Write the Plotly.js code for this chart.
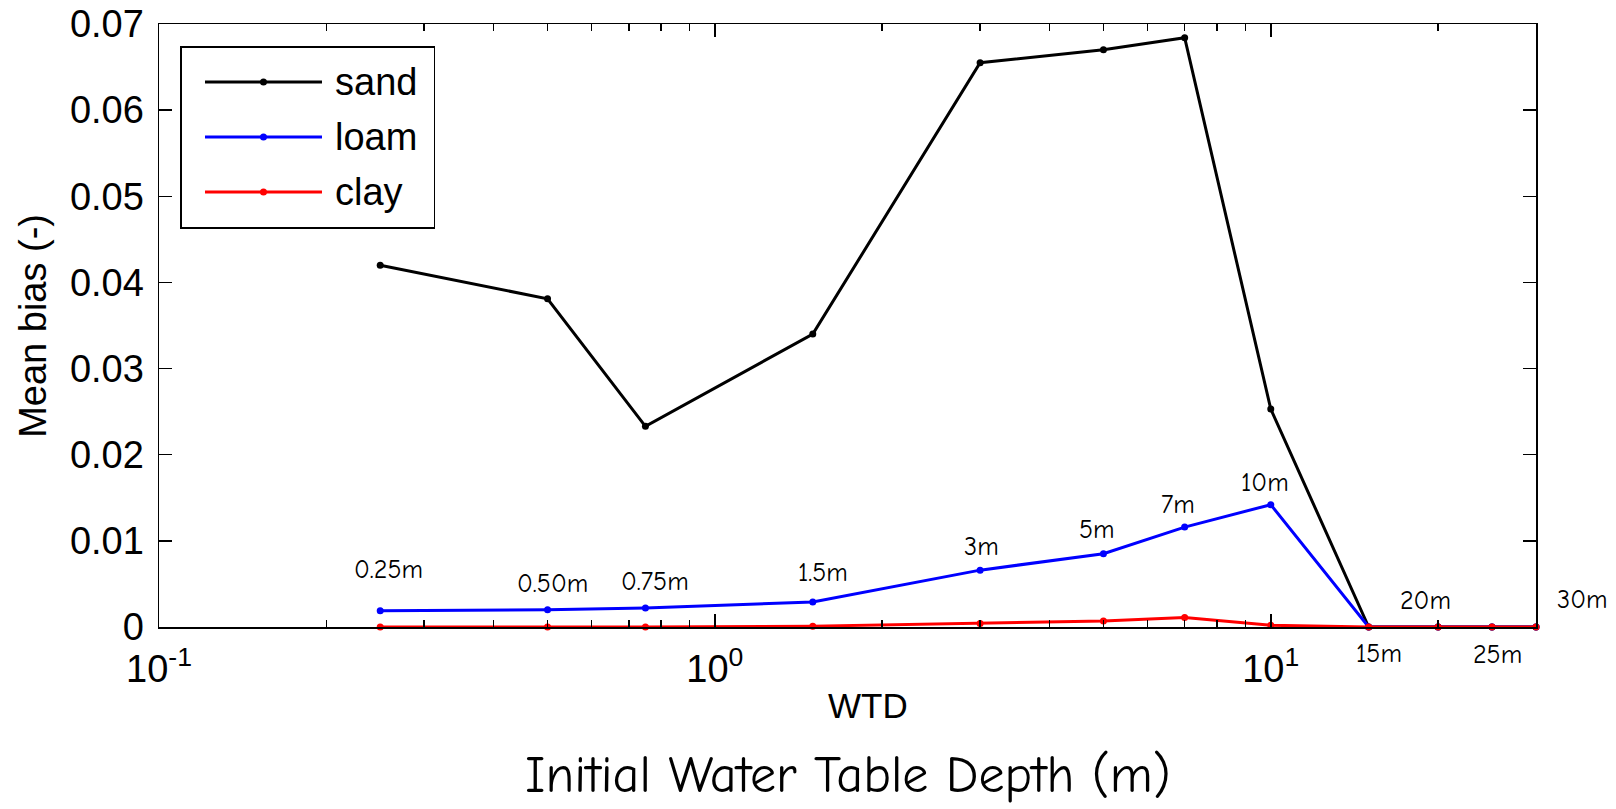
<!DOCTYPE html>
<html>
<head>
<meta charset="utf-8">
<script src="https://cdn.plot.ly/plotly-3.0.1.min.js"></script>
<style>html,body{margin:0;padding:0;background:#fff;}#chart{width:1616px;height:809px;}</style>
</head>
<body>
<div id="chart"></div>
<script>
// ---- data ----
const depths = [0.25, 0.5, 0.75, 1.5, 3, 5, 7, 10, 15, 20, 25, 30];
const depthLabels = ['0.25m', '0.50m', '0.75m', '1.5m', '3m', '5m', '7m', '10m', '15m', '20m', '25m', '30m'];
const sand = [0.0420, 0.0381, 0.0233, 0.0340, 0.0655, 0.0670, 0.0684, 0.0253, 0, 0, 0, 0];
const loam = [0.0019, 0.0020, 0.0022, 0.0029, 0.0066, 0.0085, 0.0116, 0.0142, 0, 0, 0, 0];
const clay = [0, 0, 0, 0.0001, 0.0004, 0.0007, 0.0011, 0.0002, 0, 0, 0, 0];
const seriesNames = ['sand', 'loam', 'clay'];
const seriesColors = ['#000000', '#0000ff', '#ff0000'];
const xTickVals = [0.1, 1, 10];
const xTickText = ['10<sup>-1</sup>', '10<sup>0</sup>', '10<sup>1</sup>'];
const xMinorVals = [0.2,0.3,0.4,0.5,0.6,0.7,0.8,0.9,2,3,4,5,6,7,8,9,20];
const yTickVals = [0, 0.01, 0.02, 0.03, 0.04, 0.05, 0.06, 0.07];

// ---- styling / layout helpers ----
const sansFont = 'Liberation Sans, Arial, sans-serif';
const comicFont = 'Comic Sans MS, Comic Neue, DejaVu Sans, sans-serif';
// pixel offsets of the depth labels relative to the loam point (dx, dy up)
const labelShift = [[8,41],[5,26],[10,26],[10,29],[1,23],[-6,24],[-7,22],[-6,22],[10,-27],[-13,26],[6,-28],[46,27]];

const allSeries = [sand, loam, clay];
const traces = allSeries.map((vals, i) => ({
  x: depths, y: vals, type: 'scatter', mode: 'lines+markers',
  name: seriesNames[i],
  line: {color: seriesColors[i], width: 3},
  marker: {color: seriesColors[i], size: 7},
  showlegend: false, xaxis: 'x', yaxis: 'y', cliponaxis: false
}));

// custom legend drawn in a small inset subplot
const legendRows = [34, 89, 144];
seriesNames.forEach((n, i) => {
  traces.push({
    x: [23, 140], y: [legendRows[i], legendRows[i]], type: 'scatter', mode: 'lines',
    line: {color: seriesColors[i], width: 3}, showlegend: false, hoverinfo: 'skip',
    xaxis: 'x2', yaxis: 'y2'
  });
  traces.push({
    x: [81.5], y: [legendRows[i]], type: 'scatter', mode: 'markers',
    marker: {color: seriesColors[i], size: 7}, showlegend: false, hoverinfo: 'skip',
    xaxis: 'x2', yaxis: 'y2'
  });
});

const annotations = depthLabels.map((t, i) => ({
  text: t, xref: 'x', yref: 'y', x: Math.log10(depths[i]), y: loam[i],
  xshift: labelShift[i][0], yshift: labelShift[i][1],
  showarrow: false, font: {family: comicFont, size: 26, color: '#000'},
  xanchor: 'center', yanchor: 'middle'
}));
seriesNames.forEach((n, i) => {
  annotations.push({
    text: n, xref: 'x2', yref: 'y2', x: 151, y: legendRows[i],
    showarrow: false, xanchor: 'left', yanchor: 'middle',
    font: {family: sansFont, size: 38, color: '#000'}
  });
});
annotations.push({
  text: 'Mean bias (-)', xref: 'paper', yref: 'paper', x: -0.092, y: 0.5,
  textangle: -90, showarrow: false, xanchor: 'center', yanchor: 'middle',
  font: {family: sansFont, size: 38, color: '#000'}
});
annotations.push({
  text: 'WTD', xref: 'paper', yref: 'paper', x: 0.515, y: -0.131,
  showarrow: false, xanchor: 'center', yanchor: 'middle',
  font: {family: sansFont, size: 35, color: '#000'}
});
annotations.push({
  text: 'Initial Water Table Depth (m)', xref: 'paper', yref: 'paper', x: 0.5, y: -0.245,
  showarrow: false, xanchor: 'center', yanchor: 'middle',
  font: {family: comicFont, size: 52, color: '#000'}
});

const layout = {
  width: 1616, height: 809,
  margin: {l: 159, r: 80, t: 24, b: 182, pad: 0},
  paper_bgcolor: '#ffffff', plot_bgcolor: '#ffffff',
  showlegend: false,
  xaxis: {
    type: 'log', range: [-1, Math.log10(30)], domain: [0, 1],
    tickmode: 'array', tickvals: xTickVals, ticktext: xTickText,
    ticks: 'inside', ticklen: 13, tickwidth: 1.5, tickcolor: '#000',
    showline: true, linecolor: '#000', linewidth: 1.5, mirror: 'ticks',
    showgrid: false, zeroline: false,
    tickfont: {family: sansFont, size: 38, color: '#000'},
    ticklabelstandoff: 8,
    minor: {tickmode: 'array', tickvals: xMinorVals, ticks: 'inside', ticklen: 7,
            tickwidth: 1.5, tickcolor: '#000', showgrid: false}
  },
  yaxis: {
    range: [0, 0.07], domain: [0, 1],
    tickmode: 'array', tickvals: yTickVals,
    ticks: 'inside', ticklen: 13, tickwidth: 1.5, tickcolor: '#000',
    showline: true, linecolor: '#000', linewidth: 1.5, mirror: 'ticks',
    showgrid: false, zeroline: false,
    tickfont: {family: sansFont, size: 38, color: '#000'},
    ticklabelstandoff: 6
  },
  xaxis2: {
    domain: [0.0167, 0.1997], range: [0, 252], anchor: 'y2',
    showline: true, mirror: true, linecolor: '#000', linewidth: 1.5,
    showgrid: false, zeroline: false, showticklabels: false, ticks: '', fixedrange: true
  },
  yaxis2: {
    domain: [0.6633, 0.9602], range: [179, 0], anchor: 'x2',
    showline: true, mirror: true, linecolor: '#000', linewidth: 1.5,
    showgrid: false, zeroline: false, showticklabels: false, ticks: '', fixedrange: true
  },
  annotations: annotations
};

Plotly.newPlot('chart', traces, layout, {displayModeBar: false, staticPlot: true});
</script>
</body>
</html>
